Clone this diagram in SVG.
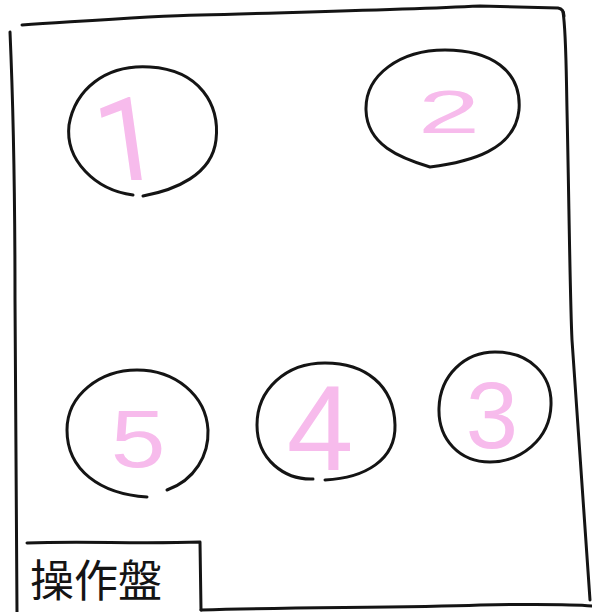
<svg xmlns="http://www.w3.org/2000/svg" width="592" height="612" viewBox="0 0 592 612">
  <style>
    .ink { fill: none; stroke: #141414; stroke-width: 3; stroke-linecap: round; stroke-linejoin: round; }
    .num { fill: #f7bbec; font-family: "Liberation Sans", Arial, sans-serif; text-anchor: middle; }
    .one { font-family: Roboto, "Open Sans", sans-serif; }
    .label { fill: #141414; font-family: "Noto Sans CJK JP", "Noto Sans CJK SC", sans-serif; font-size: 44px; }
  </style>
  <rect width="592" height="612" fill="#ffffff"/>
  <g id="frame">
    <path class="ink" d="M22,25 C100,20 150,16 200,15 C300,12 400,10 480,6 L558,8 Q564,9 564,16"/>
    <path class="ink" d="M563,12 C566,30 566,60 567,110 C569,200 570,300 572,340 C577,420 583,500 590,600"/>
    <path class="ink" d="M10,32 C13,100 15,200 15,300 C15,400 16,500 17,612"/>
    <path class="ink" d="M201,610 C300,607 400,608 480,605 C540,604 570,604 592,606"/>
  </g>
  <g id="node-1">
    <path class="ink" d="M143,196 C175,190 212,175 216,140 C220,105 200,70 150,67 C105,64 75,90 69,125 C65,160 95,190 133,195"/>
    <text class="num one" font-size="116" transform="translate(133,180) skewX(8)">1</text>
  </g>
  <g id="node-2">
    <path class="ink" d="M430,167 C470,162 515,150 519,110 C522,70 490,50 445,50 C400,50 365,75 366,110 C367,145 400,158 430,167 Z"/>
    <text class="num" font-size="62" transform="translate(449,133) scale(1.8,1)">2</text>
  </g>
  <g id="node-3">
    <path class="ink" d="M495,352 C530,352 552,375 551,405 C550,440 520,462 490,462 C460,462 438,440 439,408 C440,375 465,352 495,352 Z"/>
    <text class="num" font-size="94" transform="translate(492,448)">3</text>
  </g>
  <g id="node-4">
    <path class="ink" d="M325,480 C365,478 396,460 395,425 C394,385 365,363 325,363 C285,363 257,390 257,425 C257,460 285,480 313,479"/>
    <text class="num" font-size="120" transform="translate(320,470)">4</text>
  </g>
  <g id="node-5">
    <path class="ink" d="M167,490 C195,480 209,455 208,430 C206,395 175,370 137,370 C100,370 67,395 67,430 C67,470 100,494 147,497"/>
    <text class="num" font-size="82" transform="translate(138,467) scale(1.2,1)">5</text>
  </g>
  <g id="label-box">
    <path class="ink" d="M27,543 C80,541 140,544 200,542 L201,610"/>
    <text class="label" x="30" y="597">操作盤</text>
  </g>
  <g id="connectors"/>
</svg>
